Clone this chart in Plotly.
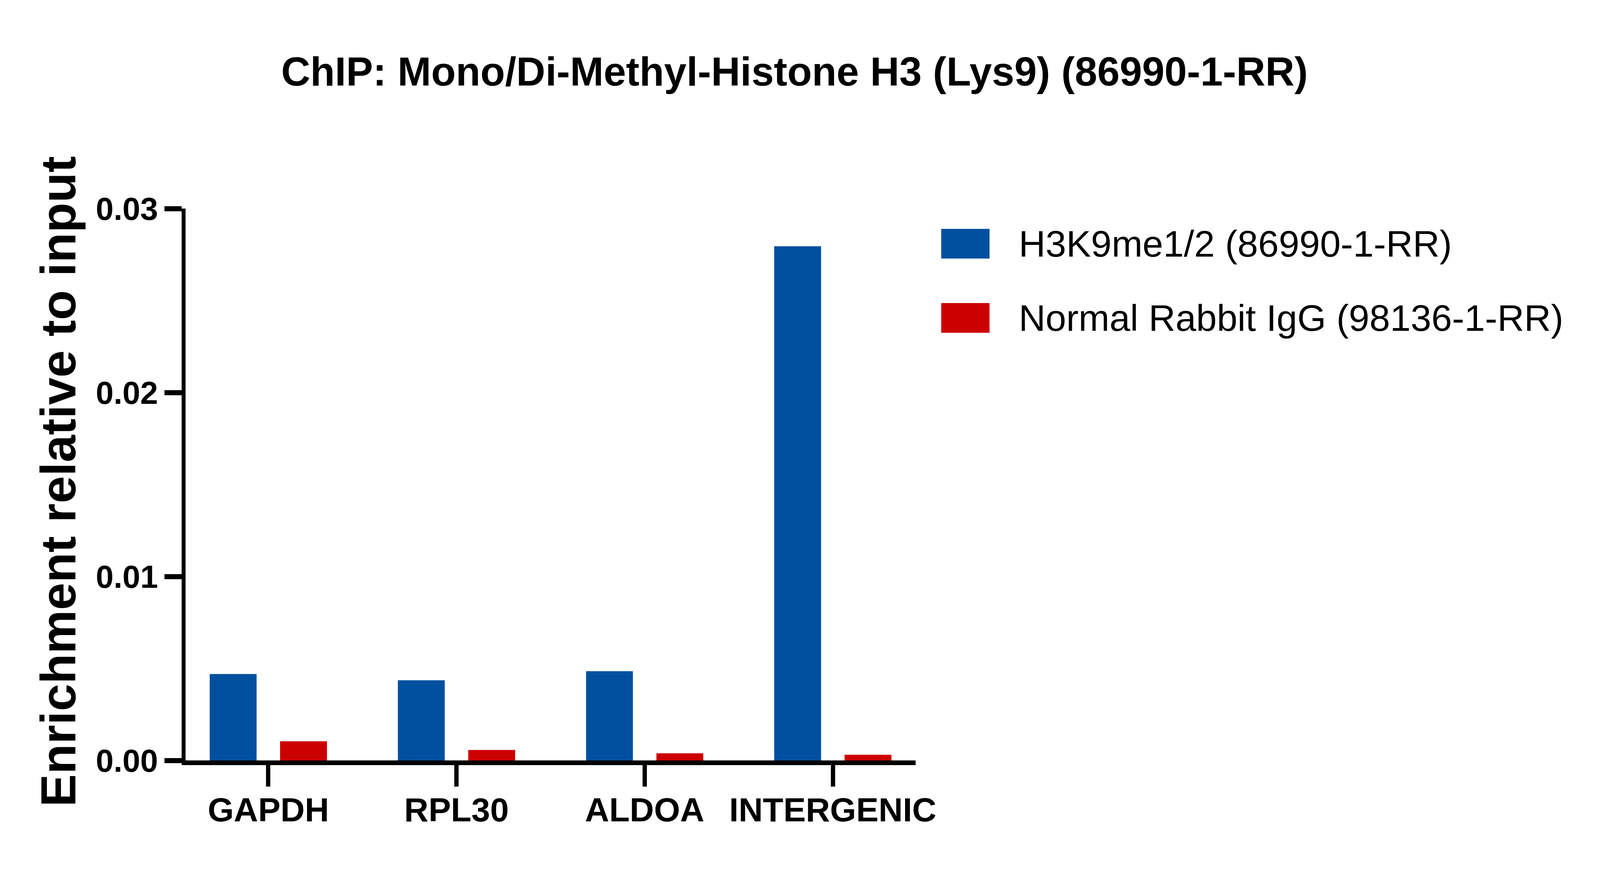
import plotly.graph_objects as go

# data
targets = ["GAPDH", "RPL30", "ALDOA", "INTERGENIC"]
h3k9_vals = [0.00470, 0.00436, 0.00485, 0.02795]
igg_vals = [0.00104, 0.00057, 0.00039, 0.00031]
series_names = ["H3K9me1/2 (86990-1-RR)", "Normal Rabbit IgG (98136-1-RR)"]
series_colors = ["#00509F", "#CD0000"]
y_ticks = [0.0, 0.01, 0.02, 0.03]
y_tick_text = ["0.00", "0.01", "0.02", "0.03"]

# the browser window is only 4096 px wide, so squeeze the 5000 px layout to fit
W, H = 4096, 2225
SX = W / 5000
FONT = "Liberation Sans, Arial, sans-serif"

# plot area (measured on the 5000 px reference)
px_l, px_r = 570 * SX, 2852 * SX
px_t, px_b = 526, 1939


def paper_x(px):
    return (px * SX - px_l) / (px_r - px_l)


def paper_y(py):
    return (px_b - py) / (px_b - px_t)


fig = go.Figure()
for name, vals, col in zip(series_names, [h3k9_vals, igg_vals], series_colors):
    fig.add_trace(go.Bar(x=targets, y=vals, name=name,
                         marker=dict(color=col, line=dict(width=0)),
                         showlegend=False))

fig.update_layout(
    width=W, height=H,
    margin=dict(l=px_l, r=W - px_r, t=px_t, b=H - px_b, pad=0),
    paper_bgcolor="white", plot_bgcolor="white",
    barmode="group", bargap=0.252, bargroupgap=0.334,
    font=dict(family=FONT, color="black"),
    title=dict(text="ChIP: Mono/Di-Methyl-Histone H3 (Lys9) (86990-1-RR)",
               font=dict(size=126 * SX, weight="bold", color="black"),
               x=0.4946, xref="container", xanchor="center",
               y=1 - 175 / H, yref="container", yanchor="middle"),
    xaxis=dict(range=[-0.44, 3.44], showline=True, linewidth=12, linecolor="black",
               ticks="outside", ticklen=55, tickwidth=11, tickcolor="black",
               tickfont=dict(size=105 * SX, weight="bold"), ticklabelstandoff=-14,
               showgrid=False, zeroline=False),
    yaxis=dict(range=[0, 0.03], tickvals=y_ticks, ticktext=y_tick_text,
               showline=True, linewidth=10, linecolor="black",
               ticks="outside", ticklen=44, tickwidth=13, tickcolor="black",
               tickfont=dict(size=100 * SX, weight="bold"), showgrid=False, zeroline=False),
)

# y axis title
fig.add_annotation(text="Enrichment relative to input", textangle=-90,
                   x=paper_x(172), y=paper_y(1225), xref="paper", yref="paper",
                   xanchor="center", yanchor="middle",
                   showarrow=False, font=dict(size=126, weight="bold", color="black"))

# legend drawn by hand so the swatches keep the reference size
sw_x0, sw_x1 = 2932, 3083
sw_h = 76
row_cy = [616, 806]
for name, col, cy in zip(series_names, series_colors, row_cy):
    fig.add_shape(type="rect", xref="paper", yref="paper",
                  x0=paper_x(sw_x0), x1=paper_x(sw_x1),
                  y0=paper_y(cy + sw_h / 2), y1=paper_y(cy - sw_h / 2),
                  fillcolor=col, line=dict(width=0))
    fig.add_annotation(text=name, x=paper_x(3172), y=paper_y(cy),
                       xref="paper", yref="paper", xanchor="left", yanchor="middle",
                       showarrow=False, font=dict(size=116 * SX, color="black"))

fig.write_html("out.html")
